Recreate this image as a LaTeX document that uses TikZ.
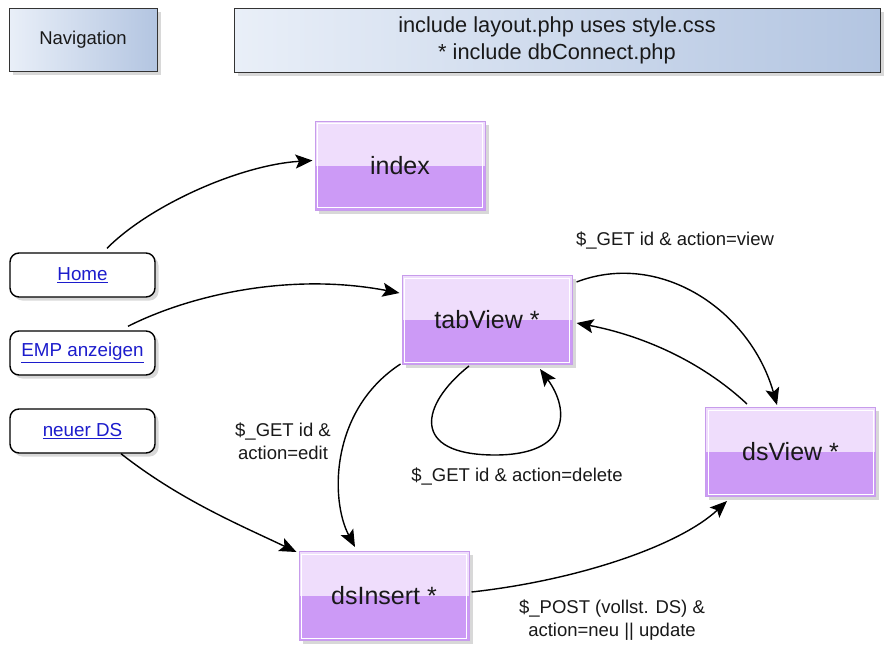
\documentclass[tikz,border=0pt]{standalone}
\usepackage{fontspec}
\setmainfont{Liberation Sans}
\usetikzlibrary{arrows.meta,shadows,calc}
\definecolor{navL}{HTML}{E9EFF8}
\definecolor{navR}{HTML}{B3C5E1}
\definecolor{pTop}{HTML}{EFDDFC}
\definecolor{pBot}{HTML}{CC9AF6}
\definecolor{pBorder}{HTML}{C79CEB}
\definecolor{linkblue}{HTML}{1C1CCC}
\tikzset{
  shad/.style={drop shadow={opacity=0.3,shadow xshift=3.5pt,shadow yshift=-3.5pt}},
  navbox/.style={draw=black!80, line width=1pt, left color=navL, right color=navR, shad,
    font=\fontsize{18.5}{27}\selectfont, align=center, text=black!90},
  pagebox/.style={draw=pBorder, line width=1pt, fill=pTop, minimum width=170pt, minimum height=89pt,
    font=\fontsize{25}{28}\selectfont, text=black!90, shad,
    path picture={
      \fill[pBot] (path picture bounding box.west) rectangle (path picture bounding box.south east);
      \draw[white, line width=0.8pt] ([shift={(2.5pt,-2.5pt)}]path picture bounding box.north west)
        rectangle ([shift={(-2.5pt,2.5pt)}]path picture bounding box.south east);}},
  linkbox/.style={draw=black, line width=1.4pt, rounded corners=9pt, fill=white,
    minimum width=145pt, minimum height=44pt, shad,
    font=\fontsize{18.8}{22}\selectfont, text=linkblue},
  flow/.style={-{Stealth[length=17pt,width=14pt,inset=3.5pt]}, line width=1.4pt},
  lbl/.style={font=\fontsize{18.5}{22.5}\selectfont, align=center, text=black!90}
}
\begin{document}
\begin{tikzpicture}[x=1pt,y=-1pt]
\useasboundingbox (0,0) rectangle (888,656);
\fill[white] (0,0) rectangle (888,656);

\node[navbox, minimum width=148pt, minimum height=63pt] (nav) at (83,39.5) {Navigation};
\node[navbox, minimum width=646pt, minimum height=64pt, font=\fontsize{21.8}{27}\selectfont] (hdr) at (557,40)
  {include layout.php uses style.css\\* include dbConnect.php};

\node[pagebox] (index) at (400,165.5) {index};
\node[pagebox] (tab) at (487,320) {tabView *};
\node[pagebox] (dsv) at (790.5,452) {dsView *};
\node[pagebox] (dsi) at (384,596) {dsInsert *};

\node[linkbox] (home) at (82.5,275) {\underline{Home}};
\node[linkbox] (emp) at (82.5,353) {\underline{EMP anzeigen}};
\node[linkbox] (neu) at (82.5,431) {\underline{neuer DS}};

% connectors
\draw[flow] ($(home.north)+(24.5,-4)$) .. controls (150,205) and (240,165) .. ($(index.west)+(-2,-5)$);
\draw[flow] ($(emp.north)+(45.5,-4)$) .. controls (190,295) and (290,272) .. ($(tab.west)+(-2,-27)$);
\draw[flow] ($(neu.south)+(38.5,0)$) .. controls (180,500) and (240,525) .. ($(dsi.north west)+(-2,1)$);
\draw[flow] ($(tab.east)+(4,-38)$) .. controls (660,250) and (750,310) .. ($(dsv.north)+(-13.5,-2)$);
\draw[flow] ($(dsv.north)+(-43.5,-3)$) .. controls (700,360) and (640,335) .. ($(tab.east)+(4,3)$);
\draw[flow] ($(tab.south west)+(-1,-1)$) .. controls (330,410) and (330,500) .. ($(dsi.north)+(-29,-4)$);
\draw[flow] ($(tab.south)+(-18,1)$) .. controls (420,405) and (410,455) .. (495,455)
  .. controls (570,455) and (570,410) .. ($(tab.south)+(53,4)$);
\draw[flow] ($(dsi.east)+(2,-4)$) .. controls (580,580) and (680,545) .. ($(dsv.south west)+(22,4)$);

% labels
\node[lbl] (l1) at (675,240) {\$\_GET id \& action=view};
\node[lbl] (l2) at (283,441) {\$\_GET id \&\\action=edit};
\node[lbl] (l3) at (517,476) {\$\_GET id \& action=delete};
\node[lbl] (l4) at (612,620) {\$\_POST (vollst. DS) \&\\action=neu || update};
\end{tikzpicture}
\end{document}
